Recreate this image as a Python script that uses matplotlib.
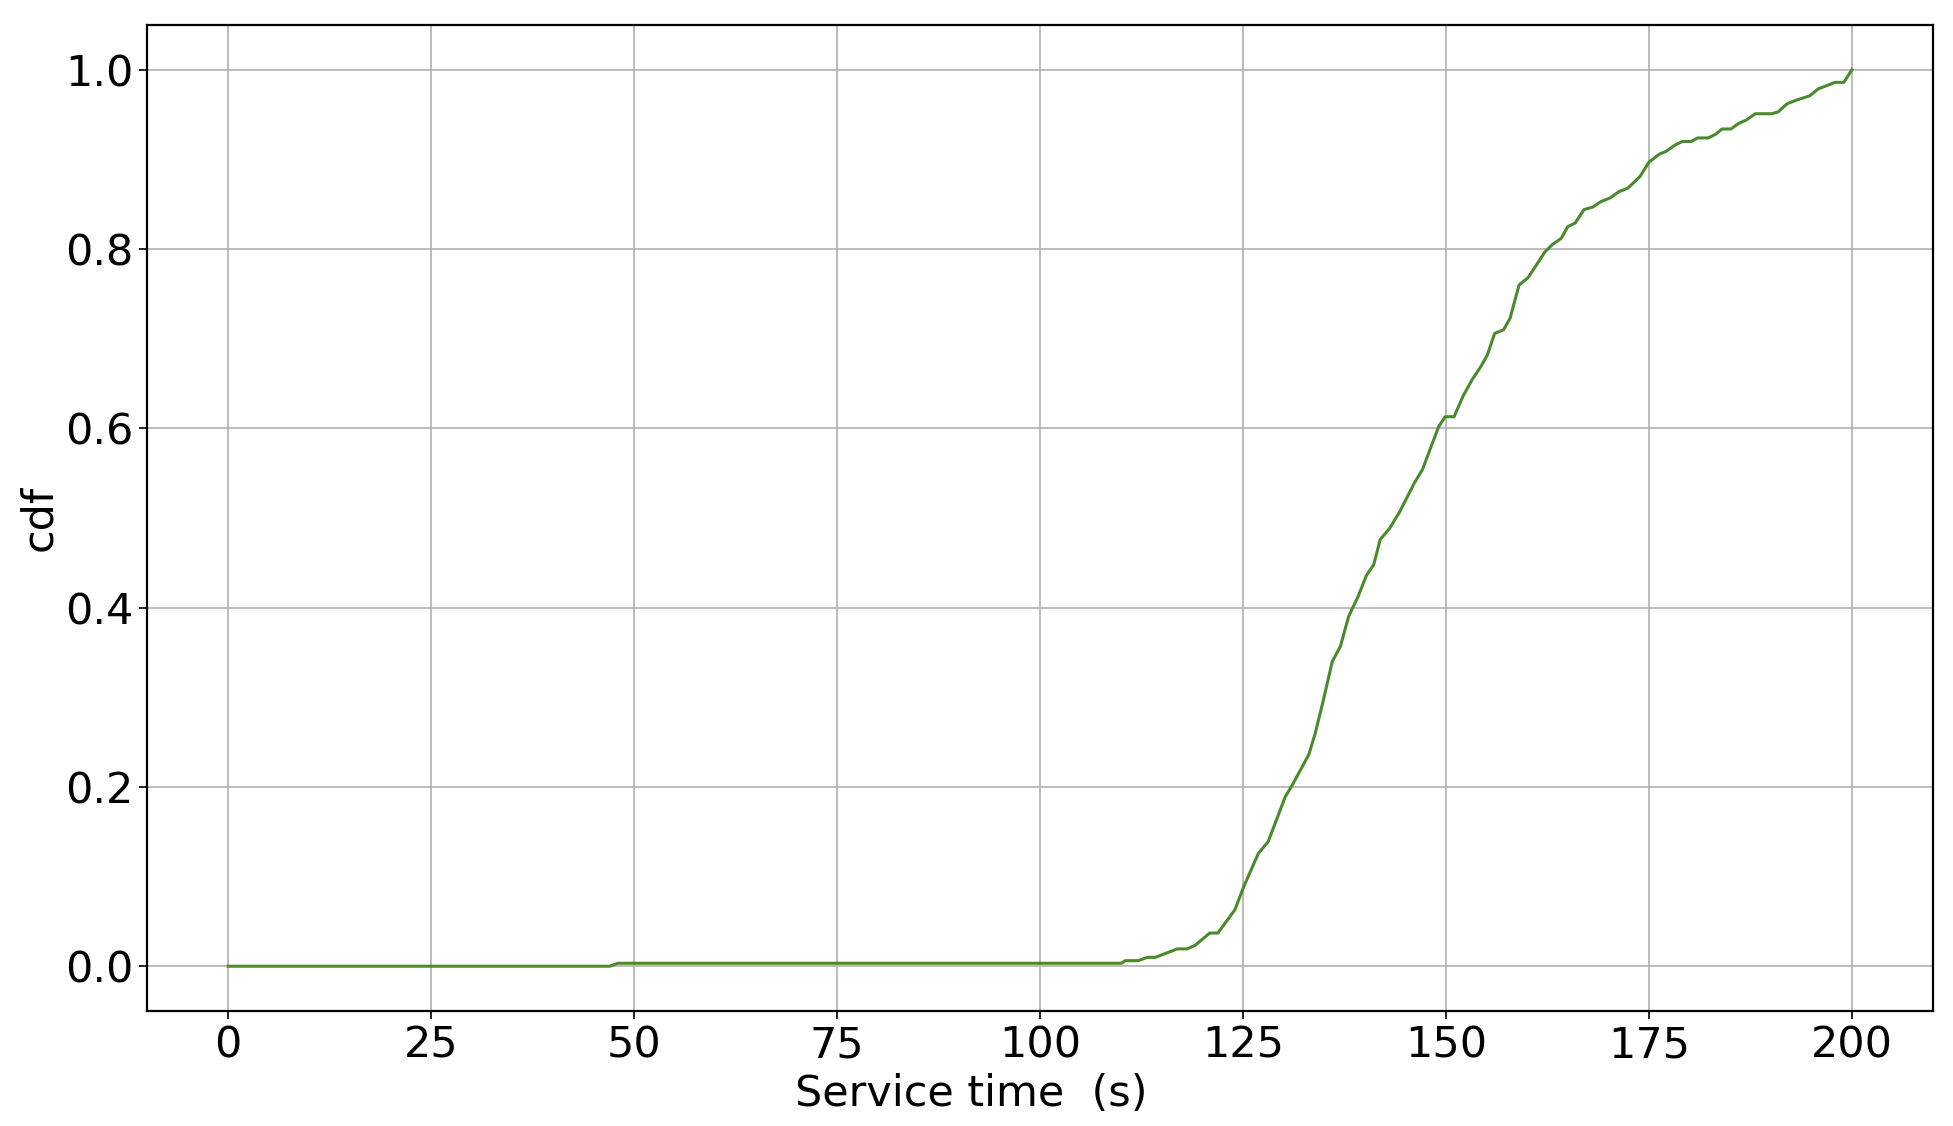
import matplotlib
matplotlib.use("Agg")
import matplotlib.pyplot as plt

service_time = [0, 47.0, 48.0, 110.0, 110.5, 112.1, 113.2, 114.2, 116.9, 118.1, 119.1,
                120.9, 121.9, 124.0, 125.1, 126.9, 128.1, 130.2, 131.0, 133.1, 133.9,
                134.9, 136.0, 137.0, 138.0, 139.2, 140.2, 141.1, 141.9, 143.1, 144.3,
                146.1, 147.1, 149.1, 149.9, 151.0, 152.1, 153.2, 154.3, 155.1, 156.0,
                157.1, 157.9, 159.0, 160.1, 162.2, 163.1, 164.2, 165.0, 165.9, 167.0,
                168.1, 169.1, 170.2, 171.3, 172.4, 173.9, 175.0, 176.3, 177.1, 178.2,
                179.1, 180.2, 181.0, 182.3, 183.2, 184.0, 185.1, 186.0, 187.0, 188.1,
                190.1, 190.9, 192.0, 193.1, 194.8, 195.9, 196.8, 197.9, 199.0, 200.0]
cdf = [0.0, 0.0, 0.0033, 0.0033, 0.0062, 0.0062, 0.0099, 0.0099, 0.0193, 0.0193, 0.0233,
       0.037, 0.037, 0.063, 0.089, 0.126, 0.139, 0.189, 0.201, 0.236, 0.260,
       0.297, 0.340, 0.357, 0.390, 0.413, 0.436, 0.448, 0.476, 0.489, 0.507,
       0.539, 0.554, 0.602, 0.613, 0.613, 0.636, 0.654, 0.669, 0.682, 0.706,
       0.710, 0.723, 0.760, 0.768, 0.797, 0.805, 0.812, 0.825, 0.829, 0.844,
       0.847, 0.853, 0.857, 0.864, 0.868, 0.881, 0.897, 0.906, 0.909, 0.916,
       0.920, 0.920, 0.924, 0.924, 0.928, 0.934, 0.934, 0.940, 0.944, 0.951,
       0.951, 0.953, 0.962, 0.966, 0.971, 0.979, 0.982, 0.986, 0.986, 1.000]

fig = plt.figure(figsize=(19.53, 11.26), dpi=100)
ax = fig.add_axes([0.0753, 0.1021, 0.9898 - 0.0753, 0.9778 - 0.1021])
ax.plot(service_time, cdf, color='#4a8a2c', linewidth=2.2)
ax.set_xlim(-10, 210)
ax.set_ylim(-0.05, 1.05)
ax.set_xticks([0, 25, 50, 75, 100, 125, 150, 175, 200])
ax.set_yticks([0.0, 0.2, 0.4, 0.6, 0.8, 1.0])
ax.grid(True, color='#b0b0b0', linewidth=1.2)
ax.tick_params(labelsize=31, length=6, width=1.2)
for s in ax.spines.values():
    s.set_linewidth(1.6)
ax.set_xlabel('Service time  (s)', fontsize=31)
ax.xaxis.set_label_coords(0.4617, -0.063)
ax.xaxis.label.set_va('top')
ax.set_ylabel('cdf', fontsize=31, labelpad=4)
fig.savefig('out.png', dpi=100)
